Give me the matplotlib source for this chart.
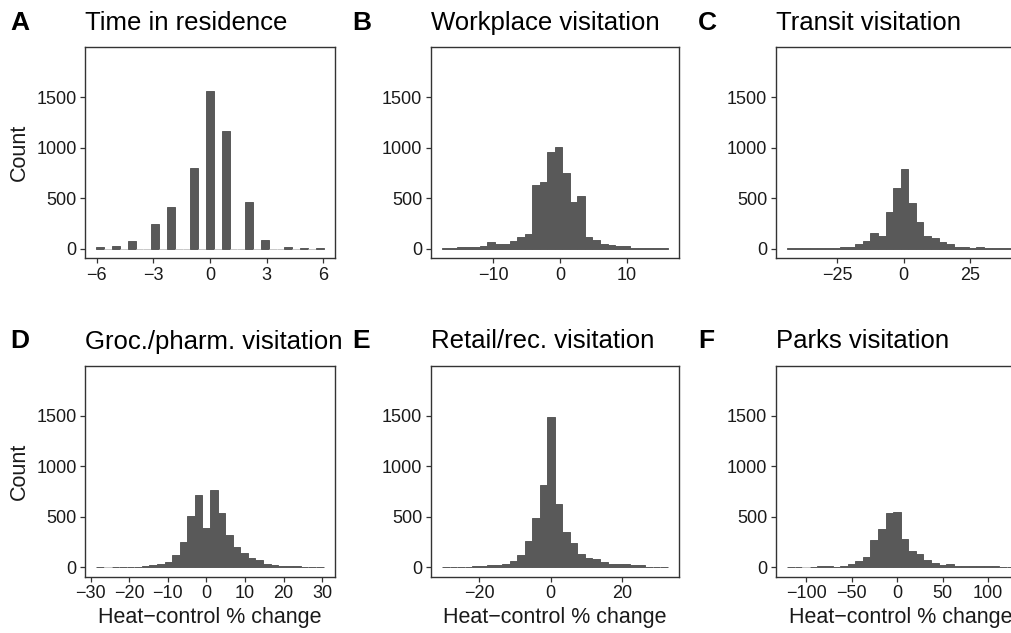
import numpy as np
import matplotlib
matplotlib.use("Agg")
import matplotlib.pyplot as plt

plt.rcParams['font.family'] = ['Liberation Sans', 'DejaVu Sans']

# histogram counts (bins run left to right)
counts_a = [13, 0, 23, 0, 72, 0, 0, 244, 0, 409, 0, 0, 804, 0, 1566,
            0, 1170, 0, 0, 458, 0, 82, 0, 0, 13, 0, 4, 0, 4]
counts_b = [3, 3, 13, 13, 13, 23, 63, 43, 43, 73, 119, 142, 636, 656, 953,
            1010, 745, 458, 527, 112, 82, 43, 33, 23, 23, 3, 3, 3, 3, 3]
counts_c = [3, 3, 3, 10, 3, 3, 3, 20, 20, 50, 76, 155, 125, 362, 603,
            794, 448, 264, 125, 105, 66, 43, 16, 16, 7, 16, 3, 3, 3, 3]
counts_d = [2, 0, 3, 7, 3, 7, 17, 27, 37, 56, 126, 256, 505, 714, 395,
            764, 535, 325, 206, 146, 90, 76, 37, 27, 17, 17, 17, 7, 7, 7]
counts_e = [3, 3, 3, 7, 13, 13, 23, 23, 36, 66, 126, 265, 493, 821, 1490,
            632, 354, 245, 136, 96, 86, 56, 36, 36, 36, 20, 20, 7, 7, 3]
counts_f = [2, 2, 0, 3, 10, 10, 5, 16, 30, 63, 102, 273, 379, 537, 550,
            280, 161, 132, 69, 43, 23, 33, 13, 10, 10, 10, 10, 10, 2, 2]

# outer bin edges (x range covered by the bins)
range_a = (-6.02, 6.02)
range_b = (-17.7, 16.1)
range_c = (-43.7, 41.5)
range_d = (-28.5, 30.4)
range_e = (-30.3, 32.6)
range_f = (-121.0, 128.9)

titles = ["Time in residence", "Workplace visitation", "Transit visitation",
          "Groc./pharm. visitation", "Retail/rec. visitation", "Parks visitation"]
letters = ["A", "B", "C", "D", "E", "F"]
xticks = [[-6, -3, 0, 3, 6], [-10, 0, 10], [-25, 0, 25],
          [-30, -20, -10, 0, 10, 20, 30], [-20, 0, 20], [-100, -50, 0, 50, 100]]
yticks = [0, 500, 1000, 1500]

all_counts = [counts_a, counts_b, counts_c, counts_d, counts_e, counts_f]
all_ranges = [range_a, range_b, range_c, range_d, range_e, range_f]

W, H = 1012, 633
fig = plt.figure(figsize=(W / 100, H / 100), dpi=100)

lefts = [85, 430.7, 775.7]
widths = [250, 248.3, 250]
tops = [47.3, 366]
ax_h = 211
letter_x = [10, 352, 698]

fill = '#595959'
ink = '#1a1a1a'

for i in range(6):
    r, c = divmod(i, 3)
    x0 = lefts[c]
    y_top = tops[r]
    ax = fig.add_axes([x0 / W, 1 - (y_top + ax_h) / H, widths[c] / W, ax_h / H])

    cnt = np.array(all_counts[i])
    lo, hi = all_ranges[i]
    edges = np.linspace(lo, hi, len(cnt) + 1)
    centers = (edges[:-1] + edges[1:]) / 2
    bw = edges[1] - edges[0]
    edge_cols = [fill if v > 0 else '#c8c8c8' for v in cnt]
    ax.bar(centers, cnt, width=bw, color=fill, edgecolor=edge_cols, linewidth=0.7)

    span = hi - lo
    ax.set_xlim(lo - 0.05 * span, hi + 0.05 * span)
    ax.set_ylim(-95, 1995)
    ax.set_xticks(xticks[i])
    ax.set_yticks(yticks)
    ax.tick_params(direction='out', length=3.5, width=0.9, colors='#333333',
                   labelcolor=ink, labelsize=13, pad=2.5)
    for s in ax.spines.values():
        s.set_color('#333333')
        s.set_linewidth(1.0)

    base = y_top - 17.5
    fig.text(x0 / W, 1 - base / H, titles[i], fontsize=18.5, color='black',
             ha='left', va='baseline')
    fig.text(letter_x[c] / W, 1 - base / H, letters[i], fontsize=19,
             fontweight='bold', color='black', ha='left', va='baseline')

    if c == 0:
        fig.text(19 / W, 1 - (y_top + ax_h / 2) / H, "Count", rotation=90,
                 fontsize=15.5, color=ink, ha='center', va='center')
    if r == 1:
        fig.text((x0 + widths[c] / 2) / W, 1 - 618 / H, "Heat\u2212control % change",
                 fontsize=15.5, color=ink, ha='center', va='center')

fig.savefig("out.png", dpi=100)
